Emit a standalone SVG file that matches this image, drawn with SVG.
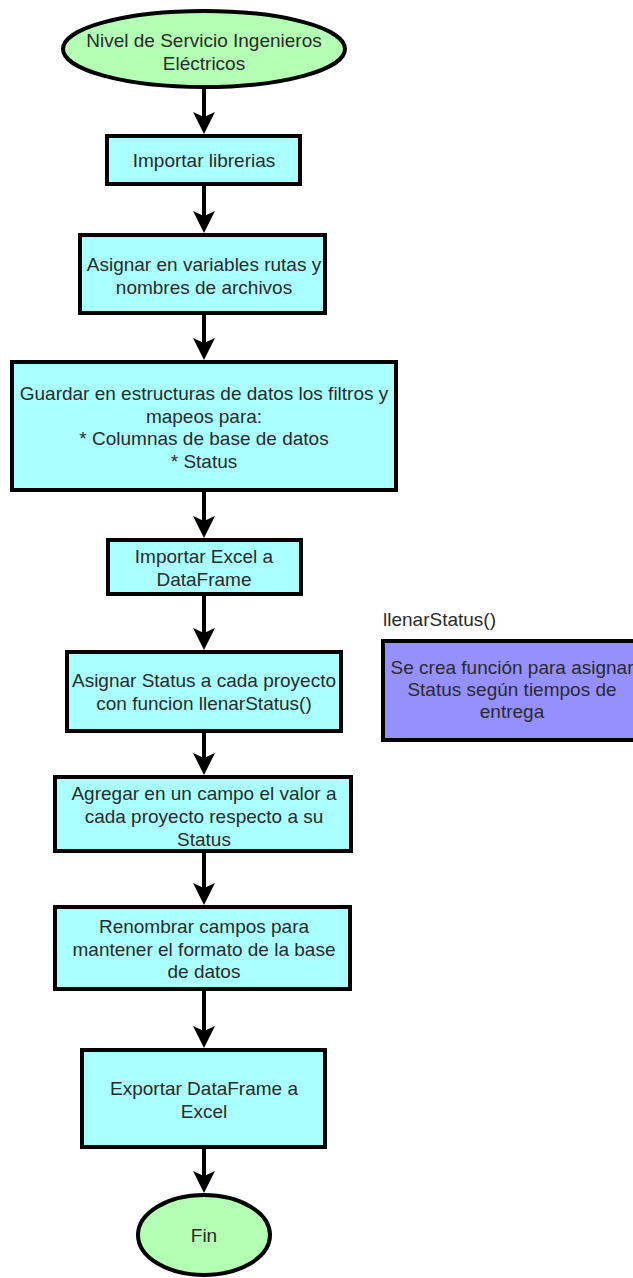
<svg xmlns="http://www.w3.org/2000/svg" width="633" height="1278" viewBox="0 0 633 1278">
<defs>
<style>
.box{fill:#aaffff;stroke:#000;stroke-width:4}
.term{fill:#b3ffb3;stroke:#000;stroke-width:4}
.fn{fill:#9690ff;stroke:#000;stroke-width:4}
.t{font-family:"Liberation Sans",Arial,sans-serif;font-size:19px;fill:#2a2a2a;text-anchor:middle;dominant-baseline:central}
.lbl{font-family:"Liberation Sans",Arial,sans-serif;font-size:19px;fill:#2a2a2a;dominant-baseline:central}
.c{stroke:#000;stroke-width:4;fill:none;marker-end:url(#ah)}
</style>
<marker id="ah" viewBox="0 0 22 22" refX="8" refY="11" markerWidth="22" markerHeight="22" markerUnits="userSpaceOnUse" orient="auto">
<path d="M0,0 L22,11 L0,22 L5,11 Z" fill="#000"/>
</marker>
</defs>
<g id="connectors">
<path class="c" d="M204,89 V120"/>
<path class="c" d="M204,186 V219"/>
<path class="c" d="M204,315 V346"/>
<path class="c" d="M204,492 V524"/>
<path class="c" d="M204,596 V636"/>
<path class="c" d="M204,733 V761"/>
<path class="c" d="M204,853 V891"/>
<path class="c" d="M204,991 V1034"/>
<path class="c" d="M204,1149 V1179"/>
</g>
<g id="start">
<ellipse class="term" cx="204" cy="49" rx="141" ry="38"/>
<text class="t" x="204" y="40">Nivel de Servicio Ingenieros</text>
<text class="t" x="204" y="63">Eléctricos</text>
</g>
<g id="importar-librerias">
<rect class="box" x="107" y="136" width="193" height="48"/>
<text class="t" x="204" y="160">Importar librerias</text>
</g>
<g id="asignar-variables">
<rect class="box" x="80" y="235" width="245" height="78"/>
<text class="t" x="204" y="264">Asignar en variables rutas y</text>
<text class="t" x="204" y="287">nombres de archivos</text>
</g>
<g id="guardar-estructuras">
<rect class="box" x="12" y="362" width="384" height="128"/>
<text class="t" x="204" y="393">Guardar en estructuras de datos los filtros y</text>
<text class="t" x="204" y="416">mapeos para:</text>
<text class="t" x="204" y="438">* Columnas de base de datos</text>
<text class="t" x="204" y="461">* Status</text>
</g>
<g id="importar-excel">
<rect class="box" x="108" y="540" width="193" height="54"/>
<text class="t" x="204" y="556">Importar Excel a</text>
<text class="t" x="204" y="579">DataFrame</text>
</g>
<g id="asignar-status">
<rect class="box" x="67" y="652" width="274" height="79"/>
<text class="t" x="204" y="680">Asignar Status a cada proyecto</text>
<text class="t" x="204" y="703">con funcion llenarStatus()</text>
</g>
<g id="agregar-campo">
<rect class="box" x="55" y="777" width="296" height="74"/>
<text class="t" x="204" y="793">Agregar en un campo el valor a</text>
<text class="t" x="204" y="816">cada proyecto respecto a su</text>
<text class="t" x="204" y="839">Status</text>
</g>
<g id="renombrar-campos">
<rect class="box" x="55" y="907" width="295" height="82"/>
<text class="t" x="204" y="926">Renombrar campos para</text>
<text class="t" x="204" y="949">mantener el formato de la base</text>
<text class="t" x="204" y="971">de datos</text>
</g>
<g id="exportar-excel">
<rect class="box" x="82" y="1050" width="243" height="97"/>
<text class="t" x="204" y="1088">Exportar DataFrame a</text>
<text class="t" x="204" y="1111">Excel</text>
</g>
<g id="fin">
<ellipse class="term" cx="204" cy="1235" rx="66" ry="40"/>
<text class="t" x="204" y="1235">Fin</text>
</g>
<g id="llenar-status-fn">
<text class="lbl" x="383" y="619">llenarStatus()</text>
<rect class="fn" x="383" y="641" width="258" height="99"/>
<text class="t" x="512" y="667">Se crea función para asignar</text>
<text class="t" x="512" y="689">Status según tiempos de</text>
<text class="t" x="512" y="711">entrega</text>
</g>
</svg>
